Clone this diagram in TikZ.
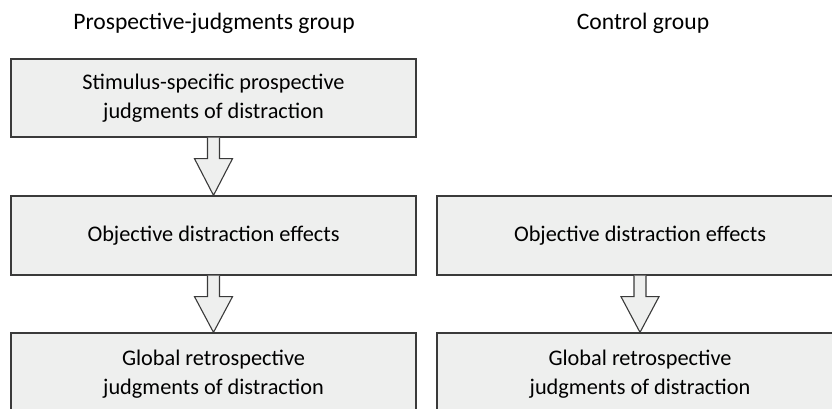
\documentclass[tikz,border=0pt]{standalone}
\usepackage{fontspec}
\setmainfont{Carlito}
\usetikzlibrary{calc}
\definecolor{boxfill}{HTML}{EEEFEE}
\definecolor{boxline}{HTML}{3A3A3A}
\newcommand\blockarr[2]{%
  \draw[blockarrow] ($(#1.south)+(-6,0)$) -- ($(#1.south)+(-6,21)$) -- ($(#1.south)+(-19,21)$)
    -- (#2.north) -- ($(#1.south)+(19,21)$) -- ($(#1.south)+(6,21)$) -- ($(#1.south)+(6,0)$);}
\begin{document}
\begin{tikzpicture}[x=1pt,y=-1pt,
  box/.style={draw=boxline, line width=1.3pt, fill=boxfill, minimum width=405pt,
    minimum height=79pt, align=center, font=\fontsize{22.3}{29}\selectfont, inner sep=0pt},
  title/.style={font=\fontsize{23.6}{26}\selectfont, inner sep=0pt},
  blockarrow/.style={draw=boxline, line width=1.1pt, fill=boxfill, line join=miter}]
\useasboundingbox (0,0) rectangle (832,408);
\node[title] (t1) at (214,23) {Prospective-judgments group};
\node[title] (t2) at (643,23) {Control group};
\node[box, minimum height=78pt] (a1) at (213.5,98) {Stimulus-specific prospective\\judgments of distraction};
\node[box] (a2) at (213.5,235.5) {Objective distraction effects};
\node[box, minimum height=82pt] (a3) at (213.5,374) {Global retrospective\\judgments of distraction};
\node[box, minimum width=406pt] (b2) at (640,235.5) {Objective distraction effects};
\node[box, minimum width=406pt, minimum height=82pt] (b3) at (640,374) {Global retrospective\\judgments of distraction};
\blockarr{a1}{a2}
\blockarr{a2}{a3}
\blockarr{b2}{b3}
\end{tikzpicture}
\end{document}
